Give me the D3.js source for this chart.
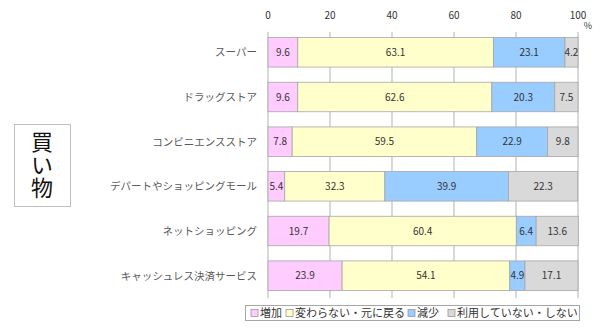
<!DOCTYPE html>
<html><head><meta charset="utf-8">
<script src="https://cdn.jsdelivr.net/npm/d3@7"></script>
<style>
body{margin:0;background:#fff;}
text{font-family:"Noto Sans CJK JP","Noto Sans",sans-serif;}
</style></head>
<body><svg id="c" width="600" height="334"></svg>
<script>
const categories = ["スーパー","ドラッグストア","コンビニエンスストア","デパートやショッピングモール","ネットショッピング","キャッシュレス決済サービス"];
const seriesNames = ["増加","変わらない・元に戻る","減少","利用していない・しない"];
const increase = [9.6, 9.6, 7.8, 5.4, 19.7, 23.9];
const same = [63.1, 62.6, 59.5, 32.3, 60.4, 54.1];
const decrease = [23.1, 20.3, 22.9, 39.9, 6.4, 4.9];
const notUsed = [4.2, 7.5, 9.8, 22.3, 13.6, 17.1];
const tickValues = [0,20,40,60,80,100];
const colors = ["#FFCCFF","#FFFFCC","#99CCFF","#D9D9D9"];

const svg = d3.select("#c");
const x = d3.scaleLinear().domain([0,100]).range([268,578]);
const y = d3.scaleBand().domain(categories).range([30,298]).paddingInner(0.34).paddingOuter(0.17);

const seriesArr = [increase, same, decrease, notUsed];
const rows = categories.map((c,i)=>{const o={cat:c}; seriesNames.forEach((s,j)=>o[s]=seriesArr[j][i]); return o;});
const stack = d3.stack().keys(seriesNames)(rows);

// gridlines
svg.append("g").selectAll("line").data(tickValues).join("line")
  .attr("x1",d=>x(d)).attr("x2",d=>x(d)).attr("y1",32).attr("y2",298)
  .attr("stroke","#BFBFBF").attr("stroke-width",1.2);

// bars
stack.forEach((s,j)=>{
  const g = svg.append("g");
  g.selectAll("rect").data(s).join("rect")
    .attr("x",d=>x(d[0])).attr("width",d=>x(d[1])-x(d[0]))
    .attr("y",d=>y(d.data.cat)).attr("height",y.bandwidth())
    .attr("fill",colors[j]).attr("stroke","#A6A6A6").attr("stroke-width",0.8);
  g.selectAll("text").data(s).join("text")
    .attr("x",d=>(x(d[0])+x(d[1]))/2).attr("y",d=>y(d.data.cat)+y.bandwidth()/2+3.5)
    .attr("text-anchor","middle").attr("font-size",10).attr("fill","#333")
    .text(d=>(d[1]-d[0]).toFixed(1));
});

// top axis labels
svg.append("g").selectAll("text").data(tickValues).join("text")
  .attr("x",d=>x(d)).attr("y",19).attr("text-anchor","middle")
  .attr("font-size",10).attr("fill","#333").text(d=>d);
svg.append("text").attr("x",588).attr("y",29).attr("text-anchor","middle")
  .attr("font-size",9).attr("fill","#333").text("%");

// category labels
svg.append("g").selectAll("text").data(categories).join("text")
  .attr("x",257).attr("y",d=>y(d)+y.bandwidth()/2+4).attr("text-anchor","end")
  .attr("font-size",10.5).attr("fill","#595959").text(d=>d);

// left box
svg.append("rect").attr("x",14.5).attr("y",124.5).attr("width",56).attr("height",82)
  .attr("fill","#fff").attr("stroke","#BFBFBF").attr("stroke-width",1);
svg.append("text").attr("x",42).attr("y",131)
  .style("writing-mode","vertical-rl").style("glyph-orientation-vertical","0")
  .attr("text-anchor","start").attr("letter-spacing",1)
  .attr("font-size",22).attr("fill","#111").text("買い物");

// legend
const lg = svg.append("g");
lg.append("rect").attr("x",245.5).attr("y",305.5).attr("width",334).attr("height",15)
  .attr("fill","#fff").attr("stroke","#A6A6A6");
const legX = [251, 286, 408, 448];
seriesNames.forEach((s,j)=>{
  lg.append("rect").attr("x",legX[j]).attr("y",309.5).attr("width",7).attr("height",7)
    .attr("fill",colors[j]).attr("stroke","#999").attr("stroke-width",0.8);
  lg.append("text").attr("x",legX[j]+9).attr("y",317).attr("font-size",11).attr("fill","#333").text(s);
});
</script></body></html>
